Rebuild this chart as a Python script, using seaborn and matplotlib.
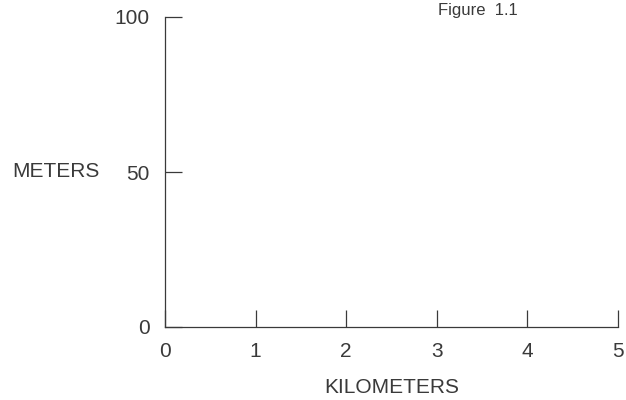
import matplotlib
matplotlib.use("Agg")
import matplotlib.pyplot as plt
import seaborn as sns
import pandas as pd

# empty chart: only the axes frame and ticks
km_ticks = [0, 1, 2, 3, 4, 5]
m_ticks = [0, 50, 100]
x_label = "KILOMETERS"
y_label = "METERS"
fig_label = "Figure  1.1"

ink = "#3a3a3a"

sns.set_style("ticks")
plt.rcParams["font.family"] = ["Liberation Sans", "DejaVu Sans"]
plt.rcParams["text.color"] = ink

fig = plt.figure(figsize=(6.26, 4.0), dpi=100)
ax = fig.add_axes([165 / 626, 1 - 327 / 400, (618 - 165) / 626, (327 - 17) / 400])

data = pd.DataFrame({"km": pd.Series([], dtype=float), "m": pd.Series([], dtype=float)})
sns.lineplot(data=data, x="km", y="m", ax=ax)

ax.set_xlim(km_ticks[0], km_ticks[-1])
ax.set_ylim(m_ticks[0], m_ticks[-1])
ax.set_xticks(km_ticks)
ax.set_yticks(m_ticks)
ax.set_xticklabels([str(t) for t in km_ticks])
ax.set_yticklabels([str(t) for t in m_ticks])

sns.despine(ax=ax)
for s in ["left", "bottom"]:
    ax.spines[s].set_color(ink)
    ax.spines[s].set_linewidth(0.9)

ax.tick_params(axis="both", direction="in", length=12.5, width=0.9, color=ink,
               labelsize=15, labelcolor=ink, pad=11)

ax.set_xlabel(x_label, fontsize=15, color=ink, labelpad=12)
ax.set_ylabel("")
fig.text(100 / 626, 1 - 172 / 400, y_label, fontsize=15, color=ink,
         ha="right", va="center")
fig.text(438 / 626, 1 - 3 / 400, fig_label, fontsize=12, color=ink,
         ha="left", va="top")

fig.savefig("out.png", dpi=100)
